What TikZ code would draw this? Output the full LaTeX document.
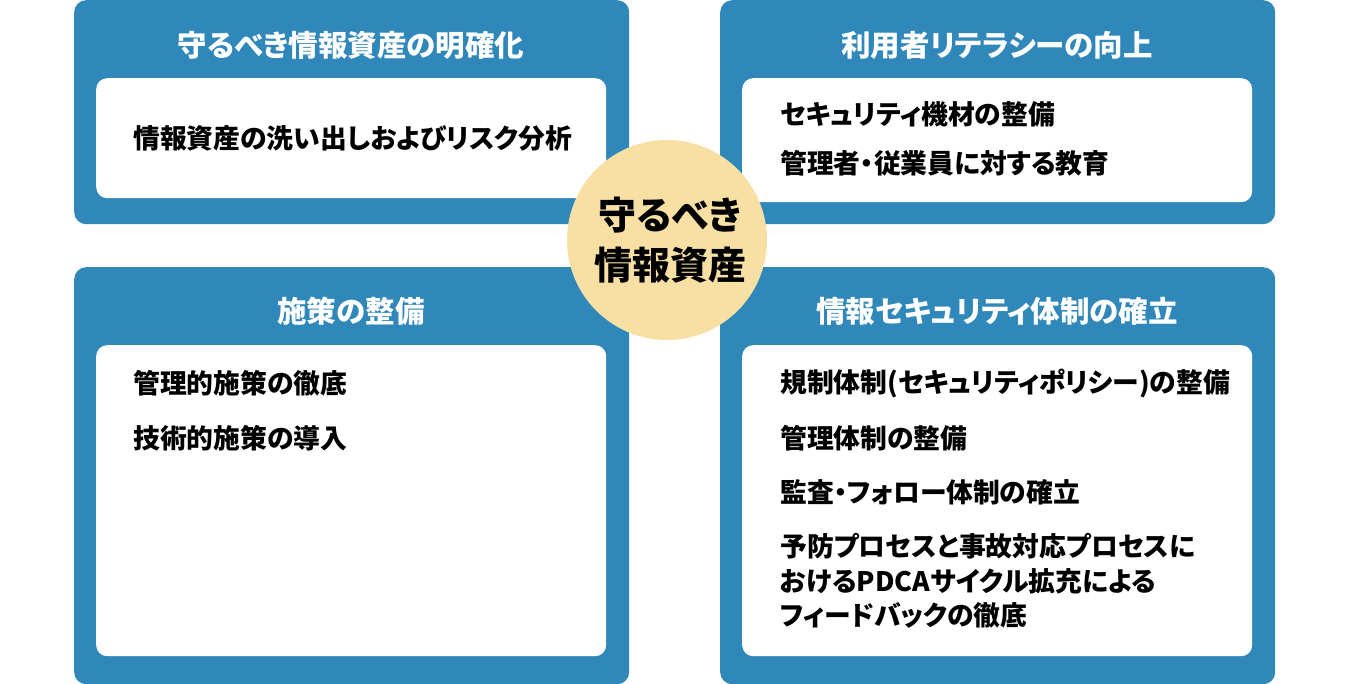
\documentclass[tikz,border=0pt]{standalone}
\usepackage{fontspec}
\setmainfont{Noto Sans CJK JP}[RawFeature=+palt]
\usepackage{tikz}
\usetikzlibrary{positioning}

\definecolor{panelblue}{HTML}{2F87BA}
\definecolor{hubyellow}{HTML}{F8DFA4}

\begin{document}
\begin{tikzpicture}[
        x=1pt, y=-1pt,
        panel/.style={fill=panelblue, rounded corners=12pt, minimum width=555pt, anchor=north west, inner sep=0pt},
        card/.style={fill=white, rounded corners=11pt, minimum width=510pt, anchor=north west, inner sep=0pt},
        ttl/.style={text=white, font=\fontsize{29.5}{34}\selectfont\bfseries},
        item/.style={anchor=west, inner sep=0pt, align=left, font=\fontsize{26.8}{34.5}\selectfont\bfseries},
        hub/.style={circle, fill=hubyellow, minimum size=200pt, align=center, font=\fontsize{38}{50}\selectfont\bfseries}
    ]
        \useasboundingbox (0,0) rectangle (1350,684);
        % panels
        \node[panel, minimum height=224pt] (pTL) at (74,0) {};
        \node[panel, minimum height=224pt] (pTR) at (720,0) {};
        \node[panel, minimum height=417pt] (pBL) at (74,267) {};
        \node[panel, minimum height=417pt] (pBR) at (720,267) {};
        \node[ttl] (tTL) at (351,45) {守るべき情報資産の明確化};
        \node[ttl] (tTR) at (997,45) {利用者リテラシーの向上};
        \node[ttl] (tBL) at (351,311) {施策の整備};
        \node[ttl] (tBR) at (997,311) {情報セキュリティ体制の確立};
        \node[card, minimum height=120pt] (cTL) at (96,78) {};
        \node[card, minimum height=124pt] (cTR) at (742,78) {};
        \node[card, minimum height=311pt] (cBL) at (96,345) {};
        \node[card, minimum height=311pt] (cBR) at (742,345) {};
        % items
        \node[item] (iTL1) at (133,138) {情報資産の洗い出しおよびリスク分析};
        \node[item] (iTR1) at (780,114) {セキュリティ機材の整備};
        \node[item, below=49pt of iTR1.west, anchor=west] (iTR2) {管理者・従業員に対する教育};
        \node[item] (iBL1) at (133,383) {管理的施策の徹底};
        \node[item, below=55pt of iBL1.west, anchor=west] (iBL2) {技術的施策の導入};
        \node[item] (iBR1) at (780,384) {規制体制(セキュリティポリシー)の整備};
        \node[item, below=54pt of iBR1.west, anchor=west] (iBR2) {管理体制の整備};
        \node[item, below=54pt of iBR2.west, anchor=west] (iBR3) {監査・フォロー体制の確立};
        \node[item, below=89pt of iBR3.west, anchor=west] (iBR4) {予防プロセスと事故対応プロセスに\\おけるPDCAサイクル拡充による\\フィードバックの徹底};
        % centre
        \node[hub] (hub) at (667,240) {};
        \node[align=center, font=\fontsize{38}{50}\selectfont\bfseries] (hubText) at (670,240) {守るべき\\情報資産};
    \end{tikzpicture}
\end{document}
